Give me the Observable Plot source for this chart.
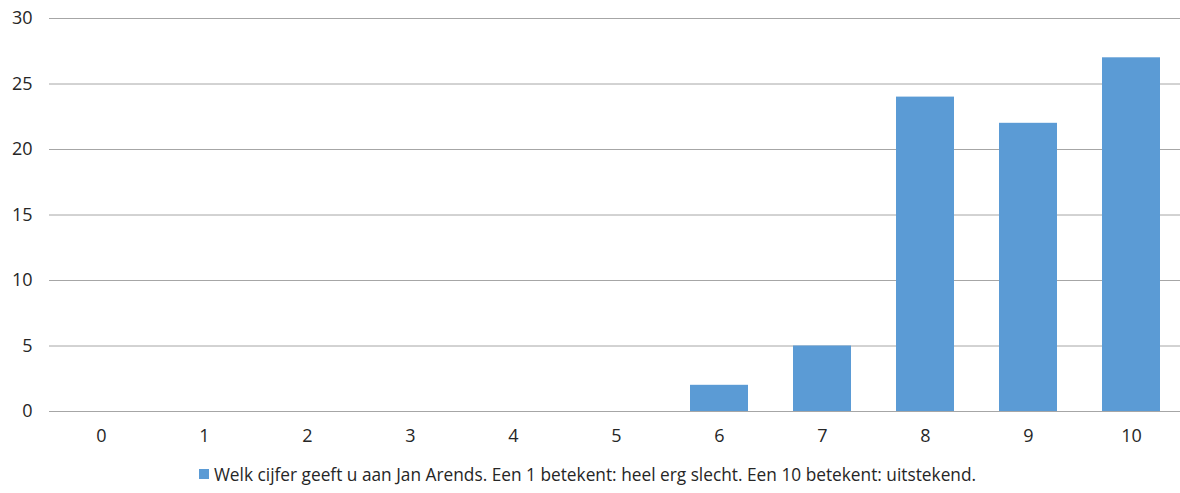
<!DOCTYPE html>
<html>
<head>
<meta charset="utf-8">
<script src="https://cdn.jsdelivr.net/npm/d3@7"></script>
<script src="https://cdn.jsdelivr.net/npm/@observablehq/plot@0.6"></script>
<style>
  html, body { margin: 0; padding: 0; background: #fff; }
  #chart svg { display: block; overflow: hidden; }
  .legend { height: 38px; display: flex; align-items: center; justify-content: center; font-family: "Open Sans", sans-serif; font-size: 17.3px; color: #262626; margin-right: 5px; }
  .legend .sw { width: 10px; height: 10px; background: #5b9bd5; display: inline-block; margin-right: 5px; }
</style>
</head>
<body>
<div id="chart"></div>
<div class="legend"><span class="sw"></span><span id="lg"></span></div>
<script>
const categories = ["0","1","2","3","4","5","6","7","8","9","10"];
const values = [0, 0, 0, 0, 0, 0, 2, 5, 24, 22, 27];
const yTicks = [0, 5, 10, 15, 20, 25, 30];
const seriesName = "Welk cijfer geeft u aan Jan Arends. Een 1 betekent: heel erg slecht. Een 10 betekent: uitstekend.";

const data = categories.map((c, i) => ({cat: c, value: values[i]}));

const chart = Plot.plot({
  width: 1180,
  height: 455,
  marginLeft: 49,
  marginRight: -3,
  marginTop: 18,
  marginBottom: 44,
  style: {fontFamily: "Open Sans, sans-serif", fontSize: "18px", color: "#262626", background: "#fff"},
  x: {domain: categories, paddingInner: 0.44, paddingOuter: 0.22, label: null, tickSize: 0, tickPadding: 18},
  y: {domain: [0, 30], ticks: yTicks, label: null, tickSize: 0, tickPadding: 19},
  marks: [
    Plot.gridY(yTicks, {stroke: "#a6a6a6", strokeOpacity: 1, strokeWidth: 1}),
    Plot.barY(data, {x: "cat", y: "value", fill: "#5b9bd5"}),
    Plot.axisX({tickSize: 0, tickPadding: 18, fontSize: 18}),
    Plot.axisY({ticks: yTicks, tickSize: 0, tickPadding: 17, fontSize: 18})
  ]
});
document.getElementById("chart").appendChild(chart);
document.getElementById("lg").textContent = seriesName;
</script>
</body>
</html>
